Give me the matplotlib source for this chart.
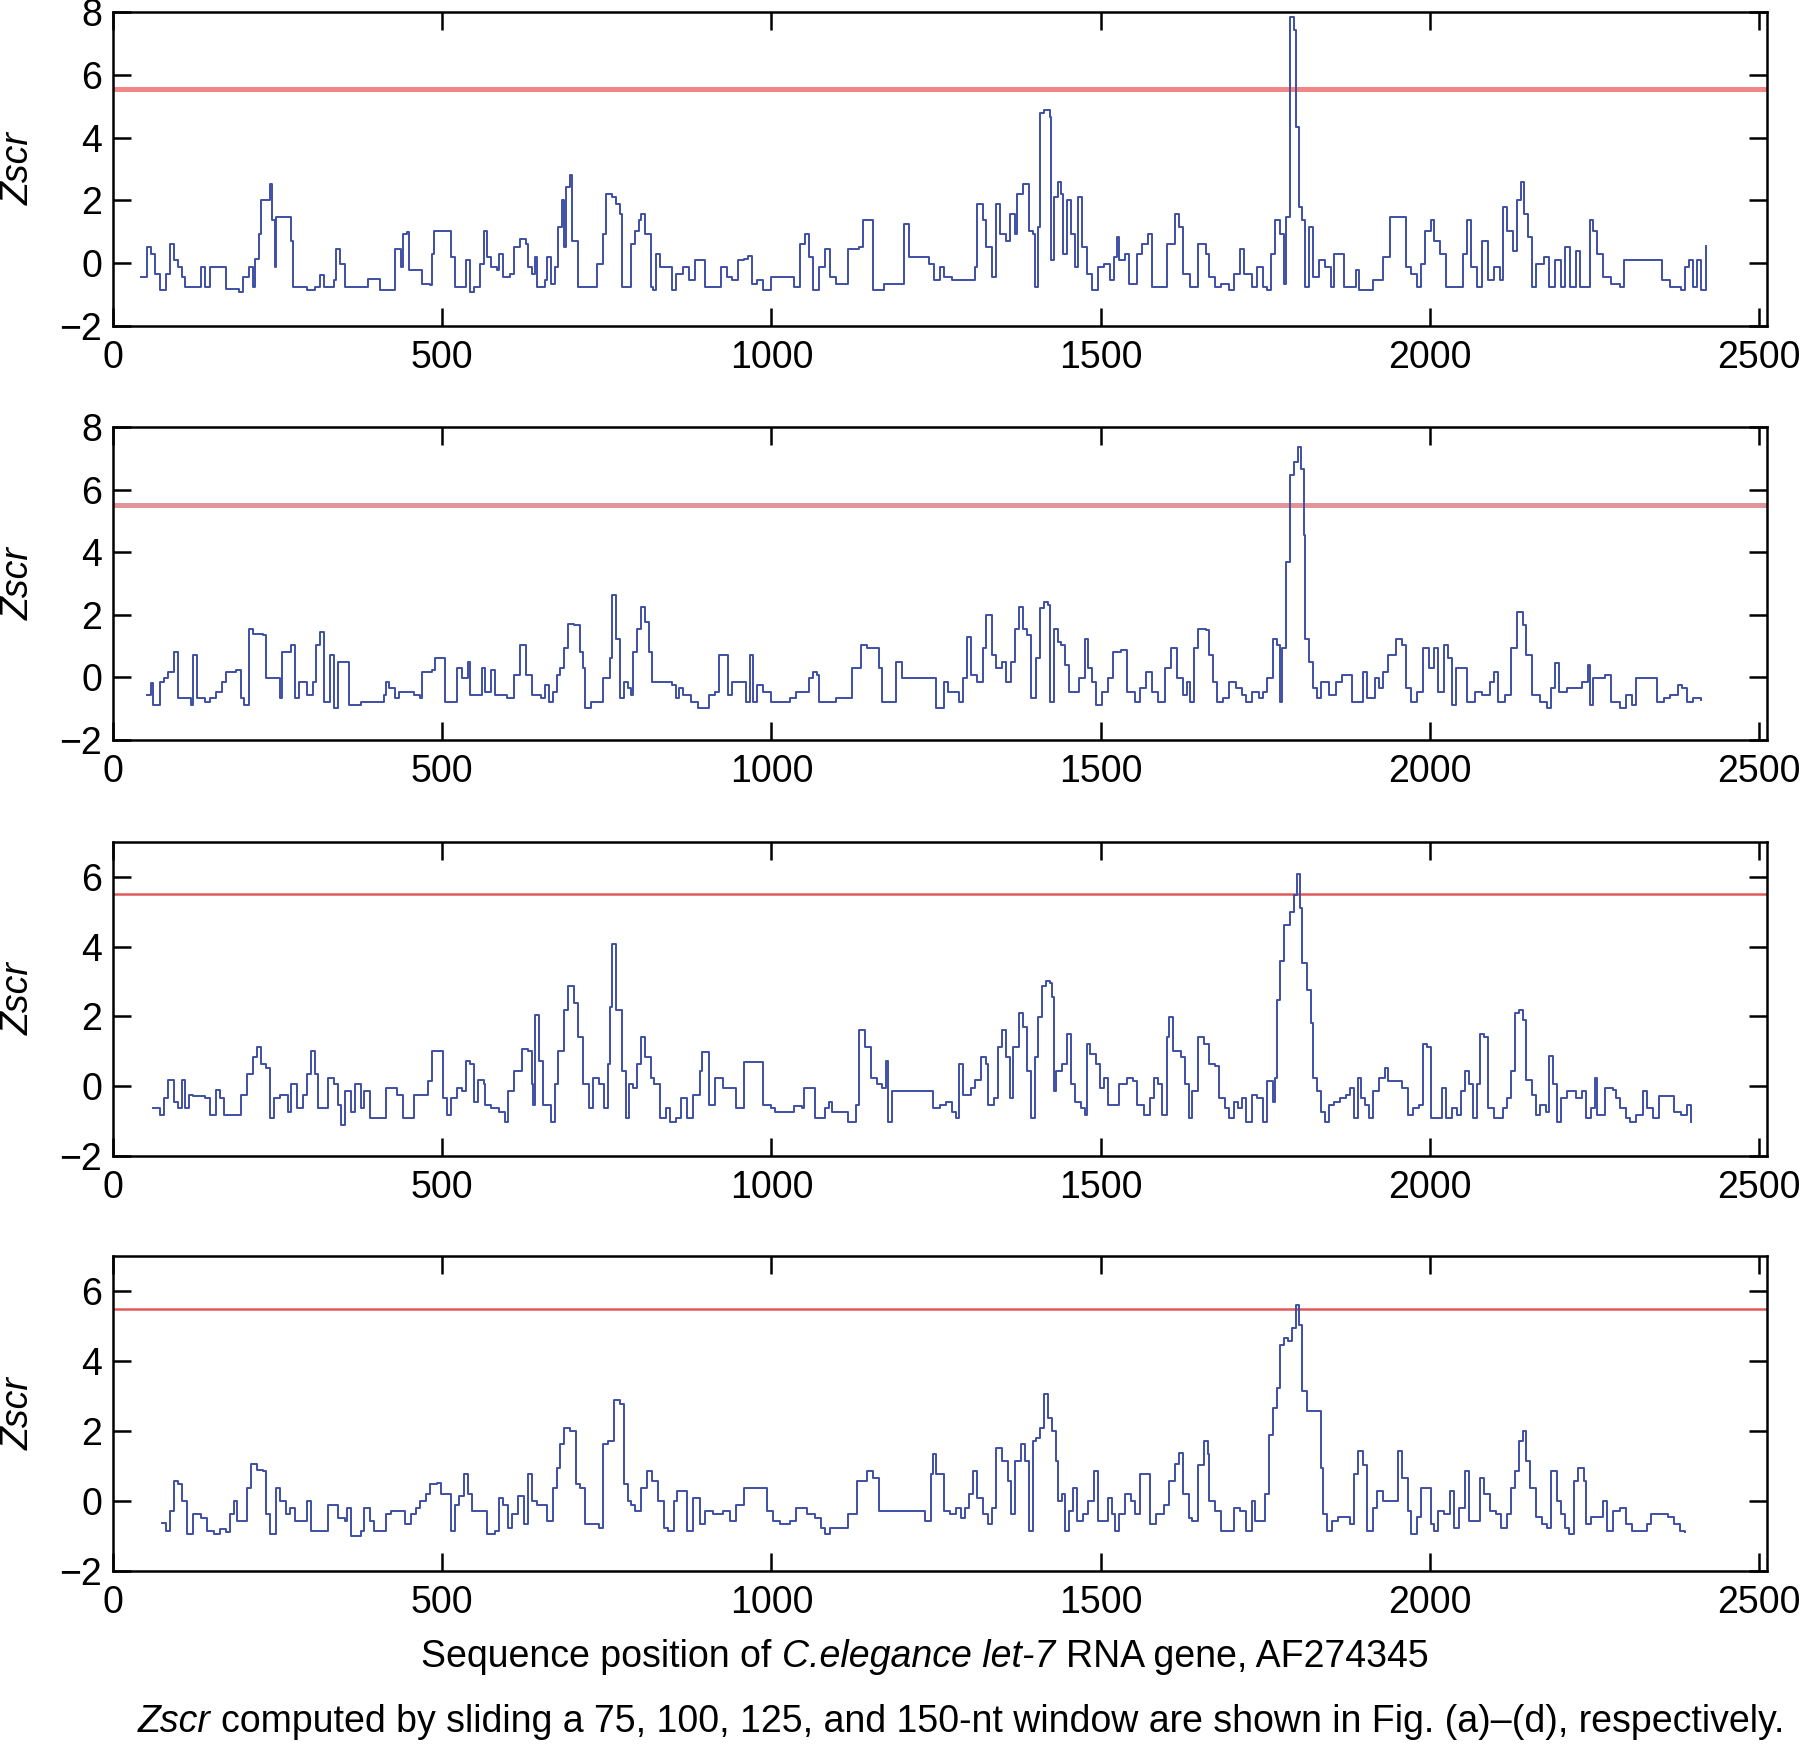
import matplotlib
matplotlib.use("Agg")
import matplotlib.pyplot as plt
from matplotlib.offsetbox import TextArea, HPacker, AnnotationBbox

plt.rcParams['font.family'] = ['Liberation Sans', 'DejaVu Sans']

# Zscr traces, (sequence position, Zscr)
zscr_75 = [
    (42, -0.45), (51, 0.51), (57, 0.30), (63, -0.34), (72, -0.85), (81, -0.34), (87, 0.62), (92, 0.09),
    (98, -0.13), (104, -0.45), (110, -0.77), (130, -0.77), (133, -0.13), (139, -0.77), (148, -0.13),
    (165, -0.13), (171, -0.82), (186, -0.82), (192, -0.93), (198, -0.45), (206, -0.13), (212, -0.77),
    (215, 0.14), (221, 0.94), (224, 2.0), (236, 2.0), (238, 2.53), (241, 1.36), (246, -0.13), (248, 1.47),
    (265, 1.47), (271, 0.72), (273, -0.77), (288, -0.77), (294, -0.87), (306, -0.77), (314, -0.39),
    (320, -0.77), (335, -0.55), (338, 0.46), (344, -0.02), (352, -0.77), (381, -0.77), (387, -0.5),
    (402, -0.5), (405, -0.87), (422, -0.87), (428, 0.46), (437, -0.13), (440, 0.94), (446, 0.99),
    (449, -0.23), (463, -0.23), (469, -0.66), (481, -0.71), (484, 0.30), (487, 1.04), (507, 1.04),
    (513, 0.19), (519, -0.77), (533, -0.77), (536, 0.09), (542, -0.93), (548, -0.77), (557, -0.02),
    (563, 1.04), (568, 0.19), (574, -0.13), (583, -0.23), (586, 0.30), (592, -0.45), (603, -0.34),
    (609, 0.51), (618, 0.78), (627, 0.62), (630, -0.13), (636, -0.34), (641, 0.19), (644, -0.77),
    (656, -0.55), (659, 0.19), (665, -0.66), (671, -0.13), (676, 1.15), (682, 2.0), (685, 0.51),
    (688, 2.43), (694, 2.8), (697, 0.72), (706, -0.77), (726, -0.77), (735, -0.02), (744, 0.94),
    (749, 2.21), (758, 2.1), (764, 1.89), (770, 1.57), (773, -0.77), (784, -0.77), (787, 0.62),
    (793, 1.04), (799, 1.36), (802, 1.57), (808, 0.94), (817, -0.77), (820, -0.87), (825, 0.30),
    (831, -0.13), (843, -0.13), (849, -0.87), (855, -0.34), (866, -0.13), (875, -0.55), (884, 0.09),
    (891, 0.09), (899, -0.77), (914, -0.77), (923, -0.13), (932, -0.45), (940, -0.55), (949, 0.09),
    (958, 0.14), (964, 0.24), (970, -0.66), (978, -0.55), (987, -0.87), (999, -0.45), (1016, -0.45),
    (1034, -0.77), (1043, 0.62), (1051, 0.94), (1057, 0.19), (1063, -0.87), (1072, -0.13), (1081, 0.46),
    (1089, -0.45), (1098, -0.66), (1110, -0.66), (1116, 0.46), (1133, 0.51), (1139, 1.36), (1148, 1.36),
    (1154, -0.87), (1163, -0.87), (1171, -0.66), (1195, -0.66), (1201, 1.26), (1209, 0.19), (1239, -0.02),
    (1247, -0.55), (1256, -0.13), (1262, -0.45), (1274, -0.55), (1300, -0.55), (1309, -0.13), (1312, 1.89),
    (1321, 1.36), (1326, 0.51), (1335, -0.45), (1341, 1.89), (1347, 0.94), (1356, 0.72), (1362, 1.57),
    (1370, 0.94), (1373, 2.21), (1382, 2.53), (1391, 1.04), (1397, 0.94), (1400, -0.77), (1405, 1.15),
    (1408, 4.77), (1414, 4.87), (1423, 4.66), (1425, 0.09), (1429, 2.1), (1435, 2.59), (1440, 2.21),
    (1443, 0.30), (1449, 2.0), (1455, 0.94), (1461, -0.13), (1466, 2.1), (1472, 0.51), (1479, -0.34),
    (1487, -0.87), (1496, -0.13), (1505, -0.02), (1514, -0.55), (1520, 0.19), (1524, 0.83), (1528, 0.09),
    (1537, 0.30), (1543, -0.66), (1555, 0.30), (1563, 0.62), (1572, 0.94), (1578, -0.77), (1593, -0.77),
    (1601, 0.62), (1613, 1.57), (1619, 1.15), (1625, -0.34), (1636, -0.77),
    (1648, 0.62), (1660, 0.30), (1665, -0.45), (1674, -0.77), (1683, -0.66), (1695, -0.87), (1703, -0.34),
    (1712, 0.46), (1718, -0.34), (1730, -0.77), (1738, -0.13), (1747, -0.77), (1753, -0.87), (1759, 0.30),
    (1765, 1.36), (1773, 0.94), (1779, -0.66), (1782, 1.47), (1788, 7.85), (1794, 7.43), (1797, 4.34),
    (1801, 1.79), (1805, 1.36), (1810, -0.77), (1817, 1.15), (1823, -0.45), (1832, 0.09), (1840, -0.13),
    (1849, -0.77), (1855, 0.30), (1867, 0.30), (1869, -0.77), (1881, -0.77), (1887, -0.23), (1893, -0.87),
    (1907, -0.87), (1913, -0.55), (1922, -0.55), (1928, 0.19), (1934, 0.19), (1939, 1.47), (1957, 1.47),
    (1963, -0.13), (1971, -0.34), (1980, -0.77), (1986, -0.02), (1992, 1.04), (2001, 1.36), (2006, 0.72),
    (2015, 0.30), (2024, -0.77), (2044, -0.77), (2050, 0.30), (2056, 1.36), (2062, -0.13), (2071, -0.77),
    (2079, 0.72), (2088, -0.55), (2097, -0.13), (2106, -0.55), (2111, 1.79), (2117, 1.04), (2126, 0.40),
    (2132, 2.0), (2138, 2.59), (2143, 1.57), (2149, 0.83), (2155, -0.77), (2161, -0.02), (2173, 0.19),
    (2181, -0.77), (2190, 0.09), (2199, -0.77), (2205, 0.51), (2213, -0.77), (2222, 0.40), (2228, -0.77),
    (2243, 1.36), (2248, 1.04), (2254, 0.30), (2263, -0.45), (2275, -0.66), (2289, -0.77), (2295, 0.09),
    (2348, 0.09), (2353, -0.55), (2365, -0.77), (2382, -0.87), (2388, -0.13), (2394, 0.09), (2400, -0.77),
    (2406, 0.09), (2412, -0.87), (2420, 0.56),
]

zscr_100 = [
    (52, -0.56), (57, -0.19), (60, -0.88), (66, -0.88), (72, -0.14), (78, -0.03), (84, 0.18), (92, 0.82),
    (98, -0.67), (113, -0.67), (119, -0.88), (122, 0.71), (127, -0.67), (139, -0.78), (148, -0.67),
    (157, -0.46), (165, -0.14), (171, 0.18), (180, 0.18), (186, 0.23), (195, -0.67), (199, -0.88),
    (206, 1.56), (212, 1.40), (227, 1.35), (233, -0.03), (253, -0.67), (256, 0.82), (271, 1.03),
    (276, -0.67), (282, -0.14), (294, -0.56), (303, -0.14), (308, 1.03), (314, 1.46), (320, -0.78),
    (329, 0.71), (335, -0.99), (341, 0.50), (355, 0.50), (358, -0.88), (376, -0.78), (399, -0.78),
    (411, -0.56), (414, -0.14), (419, -0.35), (428, -0.67), (434, -0.46), (457, -0.56), (466, -0.67),
    (469, 0.18), (484, 0.23), (489, 0.61), (498, 0.61), (504, -0.78), (519, -0.78), (522, 0.29),
    (530, -0.03), (539, 0.50), (542, -0.56), (557, -0.56), (560, 0.29), (565, -0.46), (574, 0.23),
    (580, -0.56), (598, -0.67), (609, 0.07), (618, 1.03), (627, 0.07), (636, -0.56), (650, -0.67),
    (656, -0.24), (662, -0.78), (668, -0.46), (674, 0.07), (679, 0.29), (685, 0.93), (691, 1.72),
    (700, 1.67), (709, 0.82), (714, 0.29), (717, -0.99), (726, -0.78), (735, -0.78), (744, -0.03),
    (755, 0.61), (758, 2.63), (764, 1.24), (770, -0.67), (776, -0.14), (782, -0.35), (787, -0.56),
    (790, 0.82), (796, 1.56), (802, 2.26), (808, 1.78), (814, 0.82), (819, -0.14), (831, -0.14),
    (849, -0.24), (855, -0.67), (860, -0.35), (866, -0.56), (878, -0.78), (888, -0.99),
    (899, -0.99), (905, -0.56), (914, -0.46), (920, 0.71), (929, 0.71), (934, -0.56), (940, -0.14),
    (952, -0.14), (961, -0.78), (967, 0.71), (972, -0.78), (978, -0.24), (987, -0.46), (999, -0.78),
    (1022, -0.78), (1028, -0.67), (1037, -0.46), (1049, -0.46), (1057, -0.03), (1063, 0.18), (1069, 0.07),
    (1072, -0.78), (1092, -0.78), (1098, -0.67), (1116, -0.67), (1122, 0.29), (1130, 0.29), (1136, 1.03),
    (1145, 0.93), (1154, 0.93), (1163, 0.29), (1168, -0.78), (1183, -0.78), (1189, 0.50), (1198, -0.03),
    (1244, -0.03), (1250, -0.99), (1262, -0.14), (1268, -0.46), (1280, -0.46), (1285, -0.78), (1291, -0.03),
    (1297, 1.30), (1303, 0.07), (1312, -0.14), (1321, 0.93), (1326, 1.99), (1335, 0.71), (1341, 0.29),
    (1350, 0.50), (1356, -0.14), (1364, 0.50), (1370, 1.56), (1376, 2.26), (1382, 1.56), (1388, 1.35),
    (1394, -0.67), (1402, 0.61), (1408, 2.20), (1414, 2.41), (1420, 2.31), (1423, -0.78), (1429, 1.56),
    (1435, 1.14), (1440, 1.03), (1446, 0.39), (1452, -0.46), (1458, -0.46), (1467, -0.03), (1476, 1.24),
    (1481, 0.29), (1487, -0.14), (1493, -0.88), (1502, -0.46), (1511, -0.03), (1519, 0.82), (1531, 0.87),
    (1540, -0.46), (1552, -0.78), (1560, -0.35), (1569, 0.18), (1578, -0.46), (1587, -0.78), (1598, 0.29),
    (1607, 0.93), (1616, -0.03), (1625, -0.56), (1631, -0.14), (1636, -0.78), (1642, 0.93),
    (1648, 1.56), (1660, 1.51), (1665, 0.71), (1671, -0.14), (1677, -0.78), (1686, -0.67), (1695, -0.14),
    (1706, -0.35), (1715, -0.56), (1721, -0.78), (1730, -0.46), (1741, -0.67), (1747, -0.46), (1753, -0.03),
    (1762, 1.24), (1767, 1.03), (1773, -0.78), (1776, 0.93), (1782, 3.69), (1788, 6.46), (1794, 6.88),
    (1800, 7.36), (1804, 6.67), (1808, 4.54), (1811, 1.24), (1817, 0.50), (1823, -0.35), (1829, -0.67),
    (1834, -0.14), (1846, -0.56), (1858, -0.14), (1867, 0.07), (1878, 0.07), (1881, -0.78), (1893, -0.78),
    (1899, 0.18), (1904, -0.67), (1916, -0.03), (1922, -0.35), (1928, 0.18), (1936, 0.71), (1948, 1.24),
    (1957, 1.03), (1963, -0.35), (1971, -0.78), (1980, -0.46), (1989, 0.93), (1998, 0.29), (2006, 0.93),
    (2012, -0.46), (2021, 1.03), (2027, 0.61), (2033, -0.88), (2039, 0.29), (2050, 0.29), (2056, -0.78),
    (2068, -0.46), (2079, -0.56), (2091, -0.14), (2097, 0.18), (2103, -0.78), (2114, -0.56), (2123, 0.93),
    (2132, 2.10), (2141, 1.67), (2146, 0.71), (2155, -0.56), (2167, -0.78), (2178, -0.99), (2184, -0.35),
    (2190, 0.45), (2196, -0.46), (2208, -0.35), (2219, -0.35), (2231, -0.14), (2240, 0.39), (2243, -0.88),
    (2248, -0.03), (2266, 0.07), (2275, -0.78), (2289, -0.99), (2298, -0.56), (2307, -0.88), (2313, -0.03),
    (2339, -0.03), (2345, -0.78), (2356, -0.67), (2365, -0.56), (2377, -0.24), (2383, -0.35), (2391, -0.78),
    (2400, -0.67), (2412, -0.72),
]

zscr_125 = [
    (60, -0.63), (72, -0.83), (78, -0.34), (84, 0.19), (92, -0.44), (98, -0.63), (104, 0.19), (110, -0.63),
    (116, -0.24), (122, -0.29), (130, -0.29), (139, -0.34), (148, -0.83), (157, -0.10), (162, -0.34),
    (168, -0.83), (186, -0.83), (195, -0.24), (203, 0.34), (212, 0.83), (218, 1.12), (224, 0.63),
    (233, 0.53), (238, -0.92), (244, -0.34), (253, -0.24), (265, -0.73), (271, 0.05), (279, -0.63),
    (288, -0.24), (294, 0.34), (300, 1.02), (306, 0.34), (311, -0.63), (320, -0.63), (326, 0.24),
    (335, 0.05), (341, -0.53), (346, -1.12), (352, -0.15), (361, -0.73), (367, 0.05), (376, -0.63),
    (381, -0.15), (390, -0.92), (408, -0.92), (414, -0.05), (431, -0.24), (440, -0.92), (452, -0.92),
    (457, -0.24), (469, -0.24), (478, 0.15), (484, 1.02), (492, 1.02), (501, -0.34), (507, -0.83),
    (513, -0.34), (522, -0.05), (530, -0.15), (536, 0.73), (542, 0.63), (548, -0.44), (554, 0.19),
    (563, 0.05), (565, -0.53), (574, -0.63), (586, -0.73), (595, -1.02), (600, -0.15), (609, 0.44),
    (621, 1.07), (630, 1.02), (636, 0.05), (638, -0.53), (641, 2.04), (647, 0.73), (653, -0.53),
    (665, -1.02), (671, 0.05), (676, 1.02), (685, 2.18), (691, 2.86), (700, 2.38), (706, 1.41),
    (714, 0.05), (723, -0.63), (729, 0.24), (738, 0.05), (746, -0.63), (752, 0.63), (755, 2.28),
    (758, 4.08), (764, 2.18), (773, 0.44), (779, -0.92), (784, 0.05), (790, -0.05), (796, 0.63),
    (802, 1.41), (808, 0.83), (817, 0.24), (822, 0.05), (831, -0.92), (840, -0.63), (846, -1.02),
    (855, -0.92), (863, -0.34), (872, -0.92), (881, -0.24), (892, 0.44),
    (894, 0.97), (899, 0.97), (905, -0.53), (914, 0.24), (926, -0.05), (937, -0.05), (946, -0.63),
    (958, 0.68), (981, 0.68), (987, -0.53), (999, -0.63), (1005, -0.73), (1022, -0.73), (1034, -0.58),
    (1046, -0.63), (1049, -0.05), (1060, -0.05), (1066, -0.92), (1081, -0.63), (1087, -0.44), (1092, -0.73),
    (1110, -0.73), (1116, -1.02), (1128, -0.53), (1133, 1.60), (1142, 1.12), (1151, 0.24), (1160, 0.05),
    (1168, -0.05), (1174, 0.73), (1177, -1.02), (1183, -0.15), (1239, -0.15), (1245, -0.63), (1256, -0.53),
    (1265, -0.44), (1274, -0.73), (1280, -0.92), (1285, 0.63), (1291, -0.24), (1303, -0.05), (1309, 0.19),
    (1318, 0.83), (1326, 0.63), (1329, -0.53), (1338, -0.34), (1344, 1.12), (1350, 1.60), (1356, 0.83),
    (1362, -0.34), (1367, 1.12), (1376, 2.09), (1382, 1.70), (1388, 0.44), (1394, -0.92), (1400, 0.83),
    (1405, 1.99), (1411, 2.86), (1417, 3.01), (1423, 2.96), (1426, 2.57), (1429, -0.15), (1432, 0.44),
    (1441, 0.63), (1449, 1.50), (1455, 0.05), (1461, -0.44), (1470, -0.63), (1476, -0.83), (1479, 1.21),
    (1484, 0.92), (1493, 0.63), (1499, -0.05), (1505, 0.24), (1511, -0.53), (1519, -0.53), (1528, 0.05),
    (1540, 0.24), (1549, 0.15), (1555, -0.53), (1566, -0.83), (1575, -0.34), (1581, 0.24), (1587, 0.05),
    (1593, -0.83), (1601, 1.41), (1604, 1.99), (1610, 1.02), (1622, 0.83), (1628, 0.05), (1634, -0.92),
    (1639, -0.15),
    (1648, 1.41), (1657, 1.21), (1665, 0.63), (1674, 0.58), (1680, -0.34), (1689, -0.63), (1695, -0.92),
    (1703, -0.44), (1709, -0.63), (1715, -0.34), (1721, -1.02), (1730, -0.24), (1738, -0.34), (1747, -1.02),
    (1753, 0.15), (1762, -0.44), (1765, 0.24), (1767, 2.48), (1773, 3.59), (1779, 4.61), (1788, 5.00),
    (1794, 5.49), (1798, 6.07), (1802, 5.10), (1805, 3.54), (1814, 2.77), (1820, 1.80), (1823, 0.24),
    (1829, -0.15), (1835, -0.73), (1840, -1.02), (1846, -0.53), (1855, -0.44), (1864, -0.34), (1872, -0.24),
    (1878, -0.05), (1884, -0.92), (1890, 0.24), (1896, -0.34), (1902, -0.53), (1907, -0.92), (1913, -0.15),
    (1922, 0.24), (1931, 0.53), (1937, 0.15), (1951, 0.15), (1957, -0.05), (1966, -0.83), (1974, -0.63),
    (1983, -0.53), (1989, 1.21), (1995, 1.12), (2001, -0.92), (2009, -0.92), (2018, -0.05), (2024, -0.92),
    (2033, -0.63), (2041, -0.83), (2047, -0.15), (2053, 0.44), (2059, 0.05), (2065, -0.92), (2071, 0.05),
    (2076, 1.50), (2082, 1.41), (2088, -0.63), (2097, -0.92), (2106, -0.92), (2111, -0.63), (2117, -0.34),
    (2123, 0.44), (2129, 2.09), (2135, 2.18), (2141, 1.89), (2146, 0.19), (2155, -0.24), (2161, -0.83),
    (2167, -0.53), (2176, -0.73), (2181, 0.87), (2187, 0.05), (2193, -1.02), (2199, -0.34), (2208, -0.15),
    (2216, -0.15), (2222, -0.34), (2231, -0.15), (2237, -0.92), (2245, -0.63), (2251, 0.24), (2254, -0.83),
    (2266, -0.05), (2278, -0.10), (2283, -0.34), (2289, -0.63), (2298, -0.92), (2304, -1.02), (2313, -0.83),
    (2324, -0.15), (2330, -0.63), (2339, -0.92), (2348, -0.29), (2362, -0.29), (2371, -0.73), (2382, -0.83),
    (2391, -0.53), (2397, -1.02),
]

zscr_150 = [
    (75, -0.62), (81, -0.86), (87, -0.29), (92, 0.57), (98, 0.48), (104, 0.0), (113, -0.95), (122, -0.38),
    (133, -0.48), (142, -0.86), (154, -0.95), (162, -0.81), (171, -0.90), (177, -0.38), (183, 0.0),
    (189, -0.57), (198, -0.57), (203, 0.38), (209, 1.05), (218, 0.90), (227, 0.86), (233, -0.38),
    (238, -0.95), (247, 0.38), (253, 0.0), (262, -0.38), (268, -0.19), (276, -0.57), (288, -0.57),
    (294, 0.0), (300, -0.86), (317, -0.86), (326, -0.10), (335, -0.10), (341, -0.48), (352, -0.57),
    (355, -0.19), (361, -1.0), (376, -0.86), (381, -0.19), (390, -0.57), (396, -0.86), (408, -0.86),
    (414, -0.38), (422, -0.29), (434, -0.29), (443, -0.67), (452, -0.38), (460, -0.19), (466, 0.0),
    (475, 0.19), (481, 0.48), (492, 0.52), (498, 0.19), (507, 0.19), (513, -0.86), (519, -0.10),
    (525, 0.14), (533, 0.76), (539, 0.19), (545, -0.29), (557, -0.29), (568, -0.95), (580, -0.86),
    (586, 0.10), (592, -0.10), (600, -0.76), (606, -0.38), (615, 0.14), (624, -0.67), (630, 0.76),
    (636, 0.0), (644, -0.10), (656, -0.10), (659, -0.57), (668, 0.38), (674, 0.95), (679, 1.62),
    (685, 2.10), (694, 2.0), (703, 0.48), (709, 0.38), (717, -0.67), (729, -0.67), (738, -0.76),
    (744, 1.62), (752, 1.71), (761, 2.90), (770, 2.76), (776, 0.48), (782, 0.0), (787, -0.10),
    (793, -0.29), (802, 0.38), (811, 0.86), (819, 0.57), (828, 0.0), (837, -0.76), (843, -0.86),
    (852, 0.0), (857, 0.29), (866, 0.29), (872, -0.86), (881, 0.10), (892, -0.67),
    (899, -0.29), (911, -0.38), (926, -0.29), (937, -0.57), (946, -0.10), (958, 0.38), (984, 0.38),
    (993, -0.29), (1002, -0.57), (1013, -0.67), (1028, -0.57), (1037, -0.19), (1046, -0.19), (1054, -0.38),
    (1066, -0.48), (1075, -0.76), (1081, -0.95), (1089, -0.76), (1107, -0.76), (1116, -0.38), (1130, 0.57),
    (1145, 0.86), (1154, 0.67), (1163, -0.29), (1224, -0.29), (1233, -0.57), (1242, 0.76), (1245, 1.33),
    (1250, 0.76), (1256, 0.76), (1262, -0.29), (1271, -0.38), (1280, -0.19), (1288, -0.48), (1294, -0.19),
    (1300, 0.19), (1306, 0.86), (1312, 0.10), (1321, -0.38), (1329, -0.67), (1335, -0.19), (1341, 1.52),
    (1350, 1.14), (1359, 0.57), (1364, -0.38), (1370, 1.14), (1379, 1.62), (1385, 1.14), (1391, -0.86),
    (1397, 1.71), (1402, 1.81), (1408, 2.10), (1414, 3.05), (1420, 2.38), (1426, 2.0), (1432, 1.14),
    (1435, 0.0), (1441, 0.19), (1446, -0.86), (1452, -0.29), (1458, 0.38), (1464, -0.57), (1473, -0.38),
    (1481, 0.0), (1490, 0.86), (1496, -0.57), (1505, -0.57), (1511, 0.10), (1517, -0.38), (1522, -0.86),
    (1528, -0.38), (1537, 0.19), (1546, 0.0), (1552, -0.38), (1560, 0.76), (1569, 0.76), (1575, -0.67),
    (1584, -0.38), (1596, -0.10), (1604, 0.57), (1613, 1.05), (1619, 1.38), (1625, 0.19), (1634, -0.48),
    (1639, -0.57),
    (1648, 1.04), (1657, 1.71), (1663, 1.33), (1665, 0.0), (1674, -0.28), (1683, -0.85), (1692, -0.85),
    (1703, -0.19), (1712, -0.28), (1721, -0.85), (1730, 0.0), (1735, -0.57), (1744, -0.57), (1750, 0.19),
    (1756, 1.90), (1762, 2.66), (1767, 3.23), (1773, 4.46), (1779, 4.65), (1785, 4.56), (1791, 4.94),
    (1797, 5.60), (1801, 5.03), (1805, 3.13), (1814, 2.56), (1826, 2.56), (1834, 0.95), (1837, -0.38),
    (1843, -0.85), (1852, -0.57), (1861, -0.47), (1872, -0.47), (1878, -0.66), (1884, 0.76), (1890, 1.42),
    (1899, 1.04), (1904, -0.85), (1913, -0.19), (1919, 0.28), (1928, 0.0), (1948, 0.0), (1951, 1.42),
    (1957, 0.66), (1966, -0.28), (1971, -0.95), (1980, -0.47), (1986, 0.38), (1995, 0.38), (2001, -0.66),
    (2006, -0.85), (2012, -0.28), (2021, -0.38), (2030, 0.28), (2036, -0.76), (2044, -0.19), (2053, 0.85),
    (2059, -0.57), (2068, -0.57), (2076, 0.66), (2082, 0.19), (2091, -0.28), (2100, -0.38), (2108, -0.76),
    (2117, -0.38), (2123, 0.38), (2129, 0.85), (2135, 1.71), (2141, 1.99), (2146, 1.14), (2152, 0.38),
    (2161, -0.47), (2170, -0.66), (2178, -0.76), (2184, 0.85), (2193, 0.0), (2199, -0.38), (2205, -0.76),
    (2211, -0.95), (2219, 0.57), (2225, 0.95), (2234, 0.57), (2237, -0.66), (2245, -0.47), (2254, -0.47),
    (2263, 0.0), (2269, -0.85), (2278, -0.28), (2289, -0.19), (2298, -0.66), (2307, -0.85), (2324, -0.85),
    (2330, -0.66), (2336, -0.38), (2345, -0.38), (2362, -0.47), (2371, -0.66), (2380, -0.85), (2388, -0.90),
]

traces = [zscr_75, zscr_100, zscr_125, zscr_150]
thresholds = [5.55, 5.5, 5.5, 5.5]
y_limits = [(-2, 8), (-2, 8), (-2, 7), (-2, 7)]
y_ticks = [[-2, 0, 2, 4, 6, 8], [-2, 0, 2, 4, 6, 8], [-2, 0, 2, 4, 6], [-2, 0, 2, 4, 6]]
x_ticks = [0, 500, 1000, 1500, 2000, 2500]

# red threshold line style per panel
red_colors = ['#f28686', '#e0959a', '#e05a5a', '#e05a5a']
red_widths = [3.6, 3.6, 1.8, 1.8]

# axes boxes in figure fractions (left, bottom, width, height)
boxes = [
    (0.0628, 0.8131, 0.9189, 0.1800),
    (0.0628, 0.5757, 0.9189, 0.1795),
    (0.0628, 0.3372, 0.9189, 0.1800),
    (0.0628, 0.0992, 0.9189, 0.1806),
]

FS = 27

fig = plt.figure(figsize=(18, 17.44), dpi=100)

for i, pts in enumerate(traces):
    ax = fig.add_axes(boxes[i])
    xs = [p[0] for p in pts]
    ys = [p[1] for p in pts]
    ax.axhline(thresholds[i], color=red_colors[i], lw=red_widths[i], zorder=1)
    ax.plot(xs, ys, color='#3d4fa6', lw=1.4, drawstyle='steps-post', zorder=2)
    ax.set_xlim(0, 2512)
    ax.set_ylim(*y_limits[i])
    ax.set_xticks(x_ticks)
    ax.set_yticks(y_ticks[i])
    ax.tick_params(direction='in', length=13, width=1.8, labelsize=FS,
                   top=True, right=True, pad=8)
    ax.tick_params(axis='x', pad=10)
    for sp in ax.spines.values():
        sp.set_linewidth(1.8)
    b = boxes[i]
    fig.text(19 / 1800, b[1] + b[3] / 2, 'Zscr', rotation=90, fontsize=FS,
             style='italic', ha='center', va='center')


def mixed_line(parts, xy):
    # parts: (text, italic?) pieces laid side by side with a word space between
    boxes_ = [TextArea(t, textprops=dict(fontsize=FS, style='italic' if it else 'normal'))
              for t, it in parts]
    pack = HPacker(children=boxes_, pad=0, sep=7.5, align='baseline')
    ab = AnnotationBbox(pack, xy, xycoords='figure fraction', frameon=False,
                        box_alignment=(0.5, 0.5))
    fig.add_artist(ab)


mixed_line([('Sequence position of', False), ('C.elegance let-7', True),
            ('RNA gene, AF274345', False)], (925 / 1800, 1 - 1657 / 1744))
mixed_line([('Zscr', True),
            ('computed by sliding a 75, 100, 125, and 150-nt window are shown in Fig. (a)–(d), respectively.', False)],
           (961 / 1800, 1 - 1722 / 1744))

fig.savefig('out.png', dpi=100)
